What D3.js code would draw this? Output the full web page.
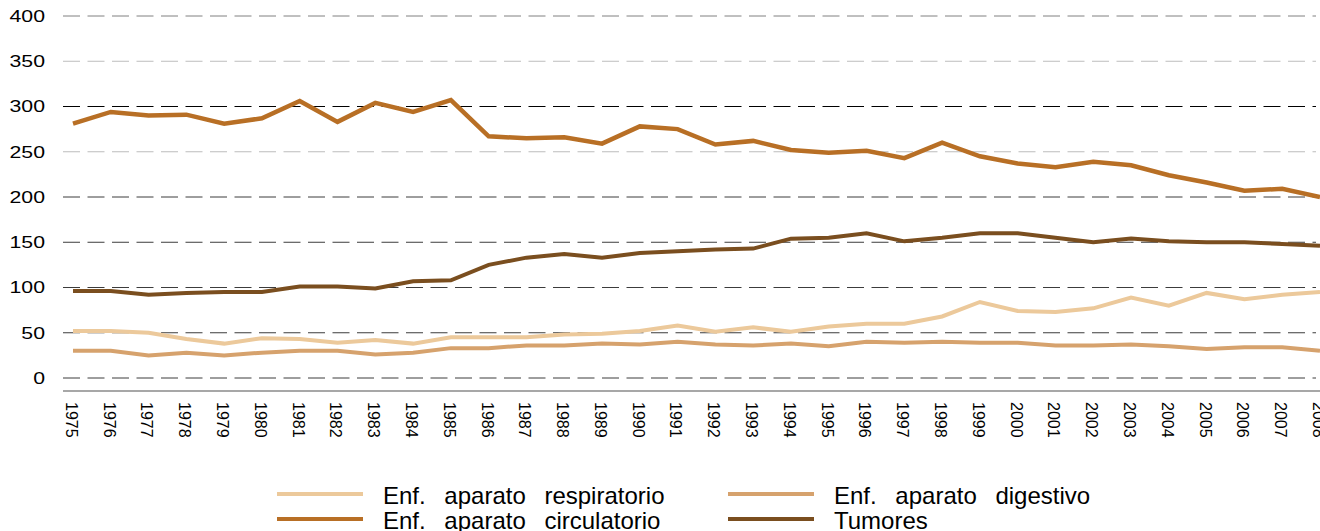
<!DOCTYPE html>
<html lang="es">
<head>
<meta charset="UTF-8">
<title>Mortalidad por causas</title>
<script src="https://cdn.jsdelivr.net/npm/d3@7/dist/d3.min.js"></script>
<style>
    body{ margin:0; background:#fff; }
    svg{ display:block; font-family:"Liberation Sans", Arial, sans-serif; }
    path.serie{ fill:none; stroke-linejoin:miter; }
    .leg{ font-size:24px; fill:#000; word-spacing:12px; }
</style>
</head>
<body>
<svg id="main" width="1320" height="531"></svg>
<script>
    // data
    const years = d3.range(1975, 2009);
    const respiratorio = [52,52,50,43,38,44,43,39,42,38,45,45,45,48,49,52,58,51,56,51,57,60,60,68,84,74,73,77,89,80,94,87,92,95];
    const digestivo = [30,30,25,28,25,28,30,30,26,28,33,33,36,36,38,37,40,37,36,38,35,40,39,40,39,39,36,36,37,35,32,34,34,30];
    const circulatorio = [281,294,290,291,281,287,306,283,304,294,307,267,265,266,259,278,275,258,262,252,249,251,243,260,245,237,233,239,235,224,216,207,209,200];
    const tumores = [96,96,92,94,95,95,101,101,99,107,108,125,133,137,133,138,140,142,143,154,155,160,151,155,160,160,155,150,154,151,150,150,148,146];
    const yTicks = [0,50,100,150,200,250,300,350,400];

    const series = [
        {name:'Enf. aparato respiratorio', values:respiratorio, color:'#ecc99b', w:4},
        {name:'Enf. aparato digestivo', values:digestivo, color:'#d6a26d', w:4},
        {name:'Tumores', values:tumores, color:'#7a4e1f', w:4},
        {name:'Enf. aparato circulatorio', values:circulatorio, color:'#b86f25', w:4.5}
    ];

    let svg = d3.select('svg#main');

    let xScale = d3.scalePoint().domain(years).range([73, 1320]);
    let yScale = d3.scaleLinear().domain([0, 400]).range([378, 16]);

    // grid lines, dashed
    let gridColor = function(d){
        if (d === 300) return '#000';
        if (d === 350 || d === 250) return '#bdbdbd';
        if (d === 400) return '#808080';
        return '#3c3c3c';
    };
    svg.append('g')
        .selectAll('line')
        .data(yTicks)
        .join('line')
        .attr('x1', 63).attr('x2', 1316)
        .attr('y1', d => yScale(d)).attr('y2', d => yScale(d))
        .attr('stroke', gridColor)
        .attr('stroke-width', 1)
        .attr('stroke-dasharray', '17,7.5');

    // y axis labels (slightly wide, like the original)
    let yAxis = svg.append('g')
        .attr('transform', 'translate(45,0)')
        .call(d3.axisLeft(yScale).tickValues(yTicks).tickSize(0).tickPadding(0));
    yAxis.select('.domain').remove();
    yAxis.selectAll('text')
        .attr('x', 0)
        .attr('transform', 'scale(1.25,1)')
        .style('font-size', '17px')
        .style('font-family', '"Liberation Sans", Arial, sans-serif')
        .style('fill', '#000');

    // x axis: solid gray base line + rotated year labels
    let xAxis = svg.append('g')
        .attr('transform', 'translate(0,391)')
        .call(d3.axisBottom(xScale).tickSize(0).tickPadding(0));
    xAxis.select('.domain')
        .attr('d', 'M63,0H1320')
        .attr('stroke', '#8a8a8a')
        .attr('stroke-width', 1.5);
    xAxis.selectAll('text')
        .attr('x', 0).attr('y', 0)
        .attr('dy', '0.35em')
        .attr('text-anchor', 'start')
        .attr('transform', 'translate(-2,11) rotate(90)')
        .style('font-size', '16px')
        .style('font-family', '"Liberation Sans", Arial, sans-serif')
        .style('fill', '#000');

    // lines
    let line = d3.line()
        .x((d, i) => xScale(years[i]))
        .y(d => yScale(d));
    svg.append('g')
        .selectAll('path')
        .data(series)
        .join('path')
        .attr('class', 'serie')
        .attr('d', d => line(d.values))
        .attr('stroke', d => d.color)
        .attr('stroke-width', d => d.w);

    // legend
    const legendOrder = [series[0], series[1], series[3], series[2]];
    let leg = svg.append('g');
    let item = leg.selectAll('g')
        .data(legendOrder)
        .join('g')
        .attr('transform', (d, i) => 'translate(' + (i % 2 === 0 ? 277 : 728) + ',' + (494 + Math.floor(i / 2) * 25) + ')');
    item.append('line')
        .attr('x1', 0).attr('x2', 86)
        .attr('stroke', d => d.color)
        .attr('stroke-width', 4);
    item.append('text')
        .attr('class', 'leg')
        .attr('x', 106)
        .attr('y', 10)
        .text(d => d.name);
</script>
</body>
</html>
